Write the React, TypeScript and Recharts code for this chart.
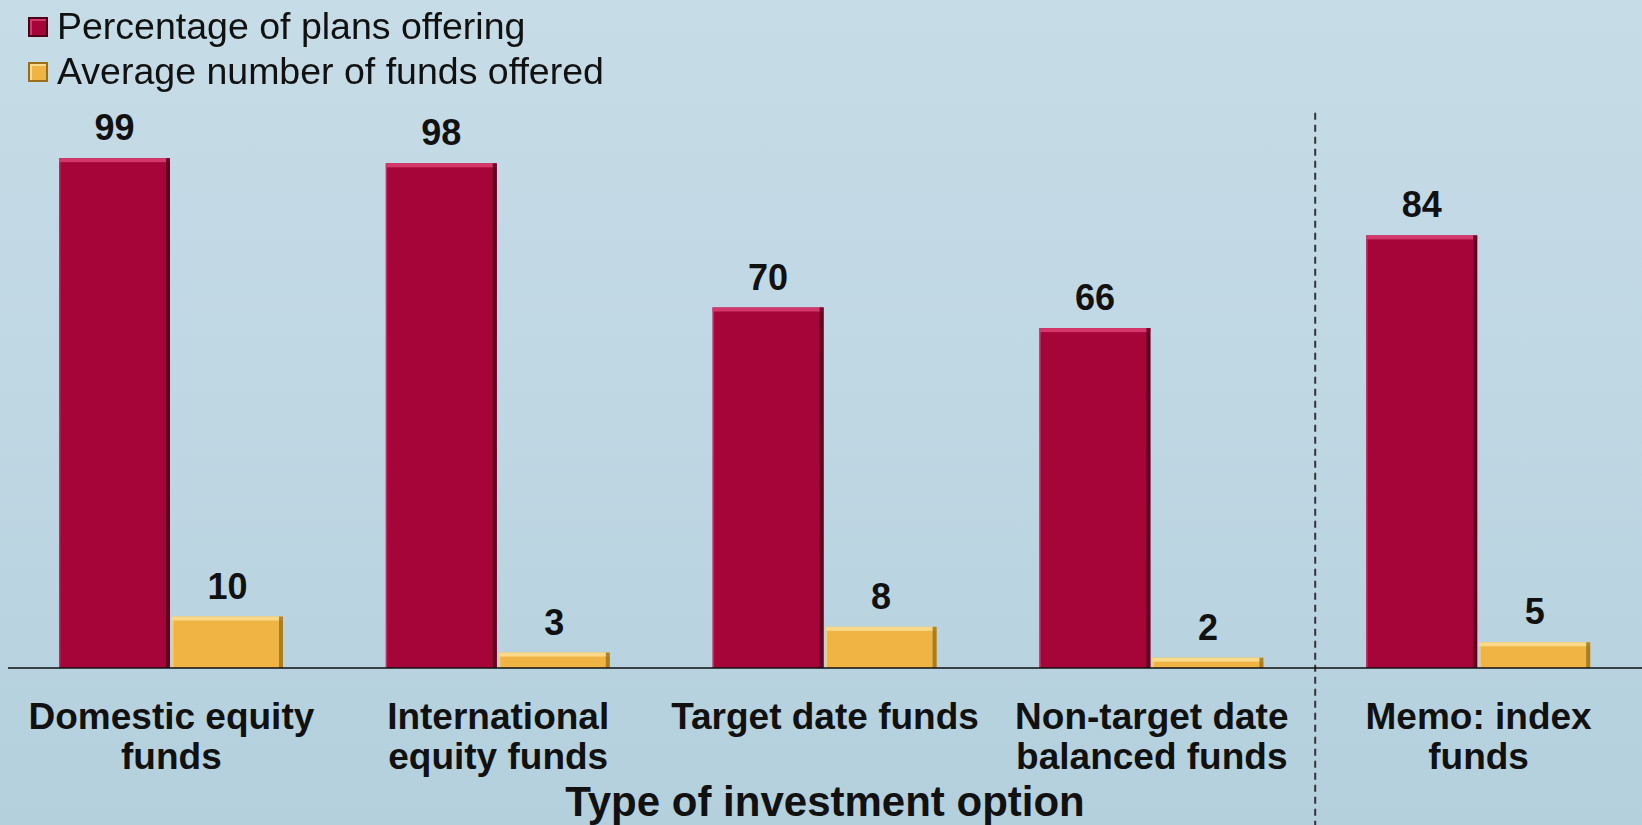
import { BarChart, Bar, XAxis, YAxis, Legend, LabelList, ReferenceLine } from "recharts";

const categories = [
  "Domestic equity funds",
  "International equity funds",
  "Target date funds",
  "Non-target date balanced funds",
  "Memo: index funds",
];
const tickLines = [
  ["Domestic equity", "funds"],
  ["International", "equity funds"],
  ["Target date funds"],
  ["Non-target date", "balanced funds"],
  ["Memo: index", "funds"],
];
const seriesNames = ["Percentage of plans offering", "Average number of funds offered"];
const pctPlans = [99, 98, 70, 66, 84];
const avgFunds = [10, 3, 8, 2, 5];

const data = categories.map((name, i) => ({
  name,
  pct: pctPlans[i],
  avg: avgFunds[i],
}));

const FONT = '"Liberation Sans", Arial, sans-serif';
const RED = "#a6053a";
const GOLD = "#efb443";

const edges: Record<string, { light: string; dark: string }> = {
  [RED]: { light: "#d3386a", dark: "#4f0019" },
  [GOLD]: { light: "#f9d98a", dark: "#9a6f1c" },
};

function BevelBar(props: any) {
  const { x, y, width, height, fill } = props;
  if (!height || height <= 0) return null;
  const e = edges[fill];
  return (
    <g>
      <rect x={x} y={y} width={width} height={height} fill={fill} />
      <rect x={x} y={y} width={width} height={Math.min(4, height)} fill={e.light} />
      <rect x={x + width - 4} y={y} width={4} height={height} fill={e.dark} opacity={0.8} />
      <rect x={x} y={y} width={1.5} height={height} fill={e.light} opacity={0.7} />
    </g>
  );
}

function CategoryTick(props: any) {
  const { x, y, index } = props;
  const lines = tickLines[index] || [];
  return (
    <text
      x={x}
      y={y}
      textAnchor="middle"
      fontFamily={FONT}
      fontWeight="bold"
      fontSize={37}
      fill="#111"
    >
      {lines.map((l, i) => (
        <tspan key={i} x={x} y={y + 61 + i * 40}>
          {l}
        </tspan>
      ))}
    </text>
  );
}

function LegendBox(props: any) {
  const items = [...(props.payload || [])].sort(
    (a: any, b: any) => seriesNames.indexOf(a.value) - seriesNames.indexOf(b.value)
  );
  return (
    <div style={{ height: 100, paddingTop: 4, boxSizing: "border-box", fontFamily: FONT }}>
      {items.map((it: any) => (
        <div
          key={it.value}
          style={{ display: "flex", alignItems: "center", height: 45, fontSize: 37.5, color: "#111" }}
        >
          <span
            style={{
              display: "inline-block",
              width: 16,
              height: 16,
              background: it.color,
              border: `2px solid ${edges[it.color].dark}`,
              boxShadow: `inset 2px 2px 0 ${edges[it.color].light}`,
              marginRight: 9,
            }}
          />
          {it.value}
        </div>
      ))}
    </div>
  );
}

export default function App() {
  return (
    <div
      style={{
        position: "fixed",
        left: 0,
        top: 0,
        width: 1642,
        height: 825,
        background: "linear-gradient(180deg, #c6dce7 0%, #c0d8e4 45%, #b4d0dd 100%)",
      }}
    >
      <BarChart
        width={1642}
        height={825}
        data={data}
        margin={{ top: 53, right: 0, bottom: 0, left: 8 }}
        barSize={111}
        barGap={2}
      >
        <Legend
          verticalAlign="top"
          align="left"
          layout="horizontal"
          wrapperStyle={{ top: 0, left: 28 }}
          content={<LegendBox />}
        />
        <XAxis
          dataKey="name"
          height={157}
          tickLine={false}
          tickSize={0}
          tickMargin={0}
          interval={0}
          axisLine={{ stroke: "#111", strokeWidth: 1.5 }}
          tick={<CategoryTick />}
          label={{
            value: "Type of investment option",
            position: "insideBottom",
            offset: 9,
            style: { fontFamily: FONT, fontWeight: "bold", fontSize: 42, fill: "#111" },
          }}
        />
        <YAxis hide domain={[0, 100]} />
        <ReferenceLine
          segment={[
            { x: "Memo: index funds", y: 107.8 },
            { x: "Memo: index funds", y: -31 },
          ]}
          position="start"
          ifOverflow="visible"
          stroke="#333"
          strokeWidth={2}
          strokeDasharray="7 5"
        />
        <Bar
          dataKey="pct"
          name={seriesNames[0]}
          fill={RED}
          shape={<BevelBar />}
          isAnimationActive={false}
        >
          <LabelList
            dataKey="pct"
            position="top"
            offset={18}
            style={{ fontFamily: FONT, fontWeight: "bold", fontSize: 36, fill: "#111" }}
          />
        </Bar>
        <Bar
          dataKey="avg"
          name={seriesNames[1]}
          fill={GOLD}
          shape={<BevelBar />}
          isAnimationActive={false}
        >
          <LabelList
            dataKey="avg"
            position="top"
            offset={18}
            style={{ fontFamily: FONT, fontWeight: "bold", fontSize: 36, fill: "#111" }}
          />
        </Bar>
      </BarChart>
    </div>
  );
}
